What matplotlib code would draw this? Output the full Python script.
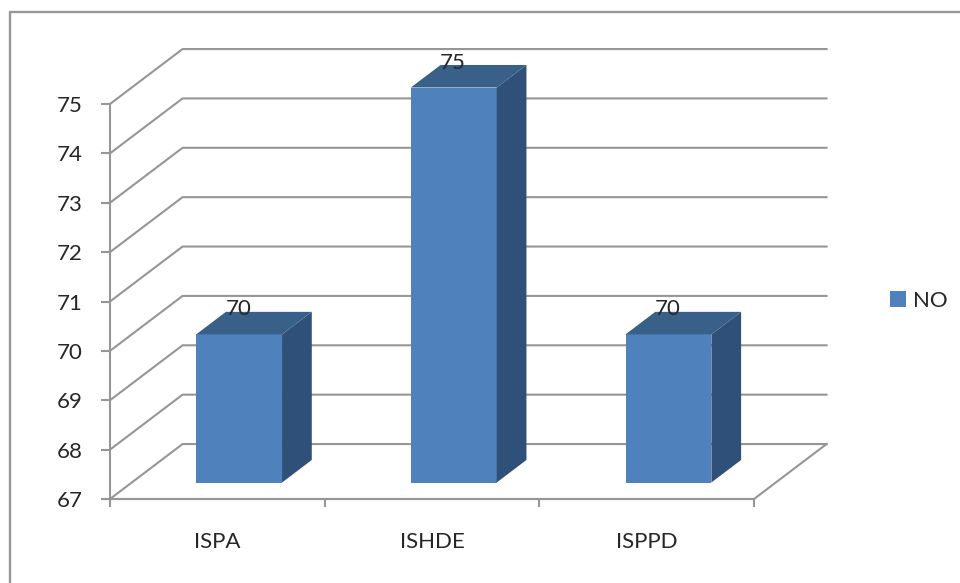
import matplotlib
matplotlib.use('Agg')
import matplotlib.pyplot as plt
from matplotlib.lines import Line2D
from matplotlib.patches import Patch

categories = ['ISPA', 'ISHDE', 'ISPPD']
values = [70, 75, 70]
y_ticks = [67, 68, 69, 70, 71, 72, 73, 74, 75]
series_name = 'NO'

# fake 3d: how far the back wall is shifted, in data units
depth_x = 0.338
depth_y = 1.113
bar_width = 0.40
bar_start = 0.30
bar_end = 0.71

grid_color = '#969696'
text_color = '#262626'
front_color = '#4F81BD'
side_color = '#2F5078'
top_color = '#386089'

plt.rcParams['font.family'] = ['Lato', 'DejaVu Sans']

fig = plt.figure(figsize=(9.6, 5.83), dpi=100)
ax = fig.add_axes([110 / 960, 1 - 499 / 583, 644 / 960, 395 / 583])
ax.set_xlim(0, len(categories))
ax.set_ylim(y_ticks[0], y_ticks[-1])


def shift(x, v, d):
    # move a point from the front plane to depth d (0 front, 1 back wall)
    return x + d * depth_x, v + d * depth_y


# grid lines run along the floor side and the back wall
for v in y_ticks:
    x0, y0 = shift(0, v, 1)
    x1, y1 = shift(len(categories), v, 1)
    ax.plot([0, x0, x1], [v, y0, y1], color=grid_color, lw=1.5, clip_on=False, zorder=1)

# front edge of the floor
x1, y1 = shift(len(categories), y_ticks[0], 1)
ax.plot([0, len(categories), x1], [y_ticks[0], y_ticks[0], y1], color=grid_color, lw=1.5,
        clip_on=False, zorder=1)

for i, val in enumerate(values):
    left = i + 0.5 - bar_width / 2
    right = i + 0.5 + bar_width / 2
    base = y_ticks[0]
    a = shift(left, base, bar_start)
    b = shift(right, base, bar_start)
    c = shift(right, val, bar_start)
    d = shift(left, val, bar_start)
    e = shift(right, val, bar_end)
    f = shift(left, val, bar_end)
    g = shift(right, base, bar_end)
    ax.fill([a[0], b[0], c[0], d[0]], [a[1], b[1], c[1], d[1]], color=front_color, lw=0,
            clip_on=False, zorder=3)
    ax.fill([b[0], g[0], e[0], c[0]], [b[1], g[1], e[1], c[1]], color=side_color, lw=0,
            clip_on=False, zorder=3)
    ax.fill([d[0], c[0], e[0], f[0]], [d[1], c[1], e[1], f[1]], color=top_color, lw=0,
            clip_on=False, zorder=3)
    ax.annotate(str(val), xy=((a[0] + b[0]) / 2, d[1]), xytext=(-0.5, 18), textcoords='offset points',
                ha='center', va='center', fontsize=16, color=text_color, zorder=4,
                annotation_clip=False)

for side in ['top', 'right']:
    ax.spines[side].set_visible(False)
for side in ['left', 'bottom']:
    ax.spines[side].set_color(grid_color)
    ax.spines[side].set_linewidth(1.5)

ax.set_yticks(y_ticks)
ax.set_xticks(range(len(categories) + 1))
ax.set_xticklabels([])
ax.set_xticks([i + 0.5 for i in range(len(categories))], minor=True)
ax.set_xticklabels(categories, minor=True)
ax.tick_params(axis='y', length=6.5, width=1.5, color=grid_color, labelcolor=text_color,
               labelsize=16, pad=13)
ax.tick_params(axis='x', which='major', length=6, width=1.5, color=grid_color)
ax.tick_params(axis='x', which='minor', length=0, labelcolor=text_color, labelsize=16, pad=24)

handle = Patch(facecolor=front_color, edgecolor='none', label=series_name)
fig.legend(handles=[handle], loc='center left', bbox_to_anchor=(890 / 960, 1 - 301 / 583),
           frameon=False, fontsize=16, labelcolor=text_color, handlelength=0.7, handleheight=0.7,
           handletextpad=0.35, borderpad=0, borderaxespad=0)

# outer chart border, only top and left are inside the picture
fig.add_artist(Line2D([10 / 960, 10 / 960, 1], [0, 1 - 12 / 583, 1 - 12 / 583],
                      color=grid_color, lw=1.7))

fig.savefig('out.png', dpi=100)
